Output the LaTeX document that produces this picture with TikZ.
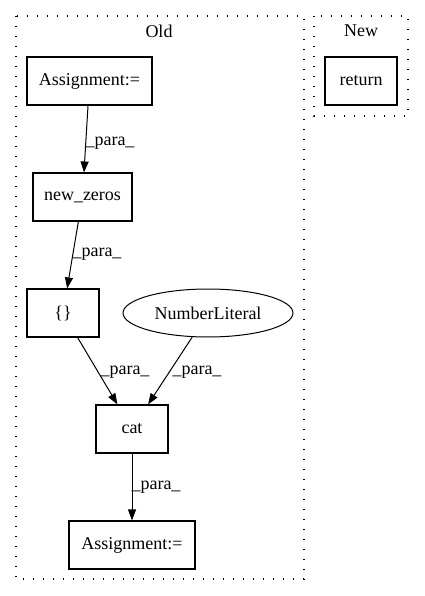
\documentclass[tikz,border=0pt]{standalone}
\usepackage{fontspec}
\setmainfont{Liberation Serif}
\usetikzlibrary{shapes.geometric,arrows.meta}
\begin{document}
\begin{tikzpicture}[x=1pt,y=-1pt,
  box/.style={draw,line width=1.1pt,rectangle,minimum height=48pt,inner sep=0pt,font=\fontsize{18}{20}\selectfont},
  oval/.style={draw,line width=1pt,ellipse,minimum width=170pt,minimum height=48pt,inner sep=0pt,font=\fontsize{18}{20}\selectfont},
  cluster/.style={draw,line width=1.3pt,dash pattern=on 1.3pt off 8.7pt},
  edge/.style={draw,line width=1pt,-{Triangle[length=11pt,width=8pt]}},
  elab/.style={font=\fontsize{18}{20}\selectfont,inner sep=0pt},
  title/.style={font=\fontsize{18}{20}\selectfont,inner sep=0pt}]
\useasboundingbox (0,0) rectangle (424,596);
\draw[cluster] (16,16) rectangle (304,579);
\draw[cluster] (314,16) rectangle (408,116);
\node[title] (old) at (159,31) {Old};
\node[title] (new) at (361,31) {New};
\node[box,minimum width=125pt] (a1) at (89.5,81) {Assignment:=};
\node[box,minimum width=72pt] (ret) at (361,81) {return};
\node[box,minimum width=99pt] (nz) at (82.5,197) {new\_zeros};
\node[box,minimum width=72pt] (br) at (63,313) {\{\}};
\node[oval] (nl) at (208,313) {NumberLiteral};
\node[box,minimum width=72pt] (cat) at (132,429) {cat};
\node[box,minimum width=126pt] (a2) at (132,545) {Assignment:=};
\draw[edge] (a1) -- (nz);
\draw[edge] (nz) -- (br);
\draw[edge] (br) -- (cat);
\draw[edge] (nl) -- (cat);
\draw[edge] (cat) -- (a2);
\node[elab] (l1) at (110,143) {\_para\_};
\node[elab] (l2) at (97,254) {\_para\_};
\node[elab] (l3) at (125,372) {\_para\_};
\node[elab] (l4) at (197,372) {\_para\_};
\node[elab] (l5) at (156,487) {\_para\_};
\end{tikzpicture}
\end{document}
